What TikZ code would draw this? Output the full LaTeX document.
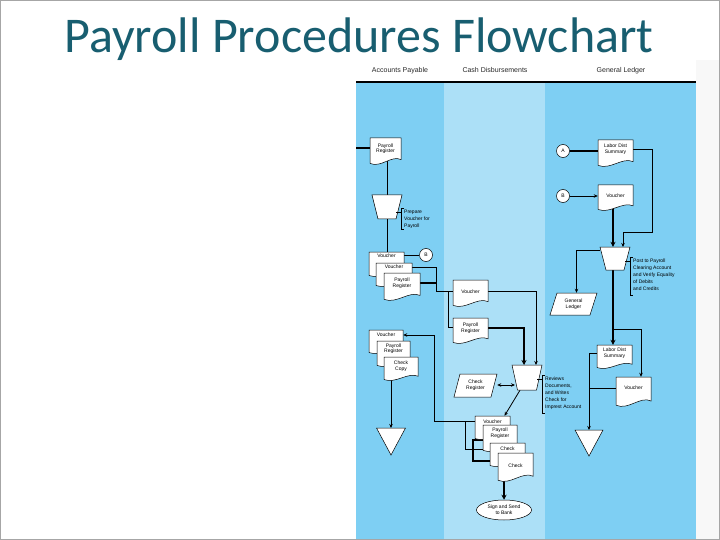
\documentclass[tikz,border=0pt]{standalone}
\usepackage{fontspec}
\setmainfont{Liberation Sans}
\newfontfamily\titlefont{Carlito}
\usetikzlibrary{arrows.meta,shapes.geometric}
\pgfdeclarelayer{lanes}\pgfdeclarelayer{lines}
\pgfsetlayers{lanes,lines,main}
\definecolor{lane}{RGB}{126,207,243}
\definecolor{midlane}{RGB}{172,224,247}
\definecolor{titleteal}{RGB}{24,94,112}
\definecolor{hdrtext}{RGB}{40,40,40}
\definecolor{sidegray}{RGB}{248,248,248}
\tikzset{
  shp/.style={draw=black, fill=white, line width=0.5pt},
  box/.style={inner sep=0pt, draw=none},
  lbl/.style={font=\fontsize{5}{5.8}\selectfont, align=center, inner sep=0pt},
  anno/.style={font=\fontsize{5}{7}\selectfont, align=left, inner sep=0pt},
  ln/.style={line width=0.8pt},
  thk/.style={line width=2pt},
  arr/.style={-{Stealth[length=4pt,width=3.5pt]}},
  dbl/.style={{Stealth[length=4pt,width=3.5pt]}-{Stealth[length=4pt,width=3.5pt]}},
  hdr/.style={font=\fontsize{7}{8}\selectfont, text=hdrtext, inner sep=0pt, anchor=base},
}
% document shape: [text fraction]{name}{x}{y}{w}{h}{text}
\newcommand\Doc[7][0.42]{%
\begin{scope}[shift={(#3,#4)}]
 \path[shp] (0,0) -- (#5,0) -- (#5,{0.8*#6}) .. controls ({0.7*#5},{0.62*#6}) and ({0.35*#5},{1.12*#6}) .. (0,{0.94*#6}) -- cycle;
 \node[box, minimum width=#5 pt, minimum height={0.85*#6 pt}] (#2) at ({0.5*#5},{0.425*#6}) {};
 \node[lbl] (#2t) at ({0.5*#5},{#1*#6}) {#7};
\end{scope}}
% manual operation: {name}{cx}{ytop}{wtop}{wbot}{h}
\newcommand\Trap[6]{%
\begin{scope}[shift={(#2,#3)}]
 \path[shp] ({-#4/2},0) -- ({#4/2},0) -- ({#5/2},#6) -- ({-#5/2},#6) -- cycle;
 \node[box, minimum width=#4 pt, minimum height=#6 pt] (#1) at (0,{#6/2}) {};
\end{scope}}
% parallelogram: {name}{x}{y}{w}{h}{slant}{text}
\newcommand\Para[7]{%
\begin{scope}[shift={(#2,#3)}]
 \path[shp] (#6,0) -- (#4,0) -- ({#4-#6},#5) -- (0,#5) -- cycle;
 \node[lbl, minimum width=#4 pt, minimum height=#5 pt] (#1) at ({#4/2},{#5/2}) {#7};
\end{scope}}
% offline file triangle: {name}{cx}{ytop}{w}{h}
\newcommand\Tri[5]{%
\begin{scope}[shift={(#2,#3)}]
 \path[shp] ({-#4/2},0) -- ({#4/2},0) -- (0,#5) -- cycle;
 \coordinate (#1) at (0,0);
\end{scope}}
% annotation: {name}{x}{y1}{y2}{text}
\newcommand\Annot[5]{%
 \draw[line width=0.6pt] (#2+3,#3) -- (#2,#3) -- (#2,#4) -- (#2+3,#4);
 \draw[line width=0.6pt] (#2-5,#3+4) -- (#2,#3+4);
 \node[anno, anchor=north west] (#1) at (#2+3,#3+1.5) {#5};}

\begin{document}
\begin{tikzpicture}[x=1pt,y=-1pt]
\useasboundingbox (0,0) rectangle (720,540);

% background and lanes
\begin{pgfonlayer}{lanes}
\fill[white] (0,0) rectangle (720,540);
\fill[sidegray] (696,60) rectangle (720,540);
\fill[white] (356,60) rectangle (696,82);
\draw[gray!70, line width=0.6pt] (0.5,0.5) rectangle (719.5,539.5);
\fill[lane] (356,82) rectangle (444,539);
\fill[midlane] (444,82) rectangle (545,539);
\fill[lane] (545,82) rectangle (696,539);
\draw[line width=1.6pt] (356,82) -- (696,82);
\end{pgfonlayer}

\node[font=\titlefont\fontsize{50}{56}\selectfont, text=titleteal, inner sep=0pt, anchor=base] (title) at (359,53) {Payroll Procedures Flowchart};

\node[hdr] (h1) at (400,73) {Accounts Payable};
\node[hdr] (h2) at (495,73) {Cash Disbursements};
\node[hdr] (h3) at (621,73) {General Ledger};

% ---------- Accounts Payable ----------
\Doc[0.4]{pr1}{370}{138}{31}{27}{Payroll\\Register}
\Trap{t1}{387}{195}{30}{18}{24}
\Annot{an1}{401}{208}{229}{Prepare\\Voucher for\\Payroll}
\Doc[0.15]{v1}{369}{252}{35}{25}{Voucher}
\Doc[0.17]{v2}{376}{263}{36}{24}{Voucher}
\Doc[0.36]{pr2}{384}{273}{36}{28}{Payroll\\Register}
\node[circle, shp, minimum size=13pt, inner sep=0pt, font=\fontsize{5}{6}\selectfont] (b1) at (426,255) {B};
\Doc[0.2]{v6}{369}{330}{34}{24}{Voucher}
\Doc[0.3]{pr4}{377}{341}{33}{26}{Payroll\\Register}
\Doc[0.4]{cc}{384}{357}{34}{24}{Check\\Copy}
\Tri{tr1}{391}{428}{29}{27}

% ---------- Cash Disbursements ----------
\Doc{v3}{453}{280}{35}{27}{Voucher}
\Doc[0.38]{pr3}{453}{318}{35}{26}{Payroll\\Register}
\Trap{t2}{527}{365}{30}{19}{25}
\Para{cr}{454}{374}{43}{23}{6}{Check\\Register}
\Annot{an2}{542}{375}{413}{Reviews\\Documents,\\and Writes\\Check for\\Imprest Account}
\Doc[0.22]{v7}{475}{416}{35}{24}{Voucher}
\Doc[0.3]{pr5}{483}{425}{34}{27}{Payroll\\Register}
\Doc[0.25]{ck1}{490}{443}{35}{24}{Check}
\Doc[0.45]{ck2}{498}{453}{35}{29}{Check}
\node[ellipse, shp, lbl, minimum width=55pt, minimum height=20pt] (sb) at (504,510) {Sign and Send\\to Bank};

% ---------- General Ledger ----------
\node[circle, shp, minimum size=13pt, inner sep=0pt, font=\fontsize{5}{6}\selectfont] (a1) at (563,151) {A};
\node[circle, shp, minimum size=13pt, inner sep=0pt, font=\fontsize{5}{6}\selectfont] (b2) at (563,196) {B};
\Doc[0.33]{lds1}{598}{140}{35}{27}{Labor Dist\\Summary}
\Doc{v4}{598}{185}{35}{26}{Voucher}
\Trap{t3}{615}{247}{30}{18}{23}
\Annot{an3}{630}{257}{295}{Post to Payroll\\Clearing Account\\and Verify Equality\\of Debits\\and Credits}
\Para{gl}{550}{293}{47}{22}{7}{General\\Ledger}
\Doc[0.35]{lds2}{597}{345}{35}{24}{Labor Dist\\Summary}
\Doc[0.37]{v5}{616}{377}{35}{30}{Voucher}
\Tri{tr2}{589}{430}{28}{26}

% ---------- connectors ----------
\begin{pgfonlayer}{lines}
\coordinate (in1) at (356,148);
\draw[thk] (in1) -- (in1 -| pr1.west);
\draw[ln] (t1.north |- pr1.center) -- (t1.north);
\draw[ln] (t1.south) -- (t1.south |- v1.north);
\draw[ln] (v1.east |- b1) -- (b1);
\coordinate (j1) at (436,267);
\draw[ln] (v2.east |- j1) -- (j1) |- (v3.west |- v3t);
\draw[thk] (pr2.east |- pr2t) -- (j1 |- pr2t);
\coordinate (j2) at (448,291);
\draw[ln] (j2) |- (pr3.west |- pr3t);
\coordinate (t2a) at (536,365);
\coordinate (t2b) at (524,365);
\draw[ln, arr] (v3.east |- v3t) -| (t2a);
\draw[thk, -{Stealth[length=5pt,width=5pt]}] (pr3.east |- pr3t) -| (t2b);
\coordinate (t2l) at (515,385);
\draw[ln, dbl] (cr.east |- t2l) -- (t2l);
\draw[ln, arr] ([xshift=-7pt]t2.south) -- ([xshift=12pt]v7.north);
\coordinate (j3) at (434,335);
\draw[ln, arr] (v7.west |- v7t) -| (j3) -- (j3 -| v6.east);
\coordinate (j4) at (465,421);
\draw[ln] (j4) |- (ck1.west |- ck1t);
\coordinate (j5) at (473,440);
\coordinate (j6) at (473,461);
\draw[thk] (pr5.west |- j5) -- (j5) -- (j6) -- (j6 -| ck2.west);
\draw[thk, -{Stealth[length=5pt,width=5pt]}] (sb.north |- ck2.center) -- (sb.north);
\draw[ln, arr] (tr1 |- cc.center) -- (tr1);
\draw[thk] (a1) -- (lds1.west |- a1);
\draw[ln, arr] (b2) -- (v4.west |- b2);
\coordinate (j7) at (652,232);
\coordinate (t3a) at (623,247);
\draw[ln, arr] (lds1.east |- lds1t) -| (j7) -| (t3a);
\draw[thk, -{Stealth[length=5pt,width=5pt]}] ([xshift=-2pt]t3.north |- v4.center) -- ([xshift=-2pt]t3.north);
\draw[ln, arr] ([yshift=-4pt]t3.north west) -| ([xshift=3pt]gl.north);
\draw[thk, -{Stealth[length=5pt,width=5pt]}] ([xshift=-2pt]t3.south) -- ([xshift=-2pt]t3.south |- lds2.north);
\coordinate (j8) at (641,329);
\draw[ln, arr] ([xshift=-2pt]j8 -| t3.south) -- (j8) -- (j8 |- v5.north);
\draw[ln, arr] (lds2.west |- lds2t) -| (tr2);
\draw[ln] (v5.west |- v5t) -- (tr2 |- v5t);
\end{pgfonlayer}
\end{tikzpicture}
\end{document}
